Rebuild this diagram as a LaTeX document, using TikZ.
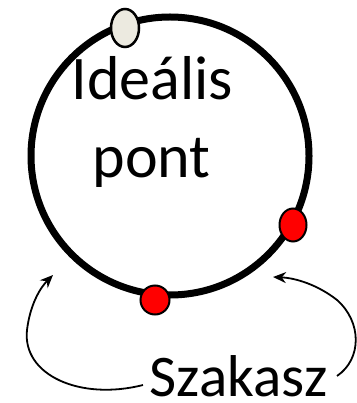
\documentclass[tikz,border=0pt]{standalone}
\usepackage{fontspec}
\setmainfont{Carlito}
\usetikzlibrary{shapes.geometric,arrows.meta}
\definecolor{pointgrey}{HTML}{ECEAE0}
\tikzset{
  bigcircle/.style={circle,draw=black,line width=7pt,minimum size=278pt,inner sep=0pt},
  idealpt/.style={ellipse,draw=black,line width=2.5pt,fill=pointgrey,minimum width=28pt,minimum height=38pt,inner sep=0pt},
  redpt/.style={ellipse,draw=black,line width=2pt,fill=red,inner sep=0pt},
  pointer/.style={line width=1.8pt,-{Stealth[length=13pt,width=11pt]}},
  bigtext/.style={font=\fontsize{62pt}{77pt}\selectfont,anchor=base,inner sep=0pt}
}
\begin{document}
\begin{tikzpicture}[x=1pt,y=-1pt]
\useasboundingbox (0,0) rectangle (356,403);
\node[bigcircle] (c) at (170,156) {};
\node[idealpt] (ip) at (125,28) {};
\node[redpt,minimum width=29pt,minimum height=29pt] (r1) at (155,300) {};
\node[redpt,minimum width=27pt,minimum height=33pt] (r2) at (293,225) {};
\node[bigtext] (t1) at (152.5,100) {Ideális};
\node[bigtext] (t2) at (151.5,177) {pont};
\node[font=\fontsize{59pt}{70pt}\selectfont,anchor=base,inner sep=0pt,text depth=0pt] (sz) at (238.5,396) {Szakasz};
\coordinate (la) at (53,275);
\coordinate (ra) at (273,277);
\coordinate (ls) at (143,385);
\coordinate (rs) at (337,376);
\draw[pointer] (ls) .. controls (80,401) and (22,375) .. (27,330) .. controls (30,305) and (40,288) .. (la);
\draw[pointer] (rs) .. controls (362,359) and (362,322) .. (337,300) .. controls (318,285) and (296,278) .. (ra);
\end{tikzpicture}
\end{document}
